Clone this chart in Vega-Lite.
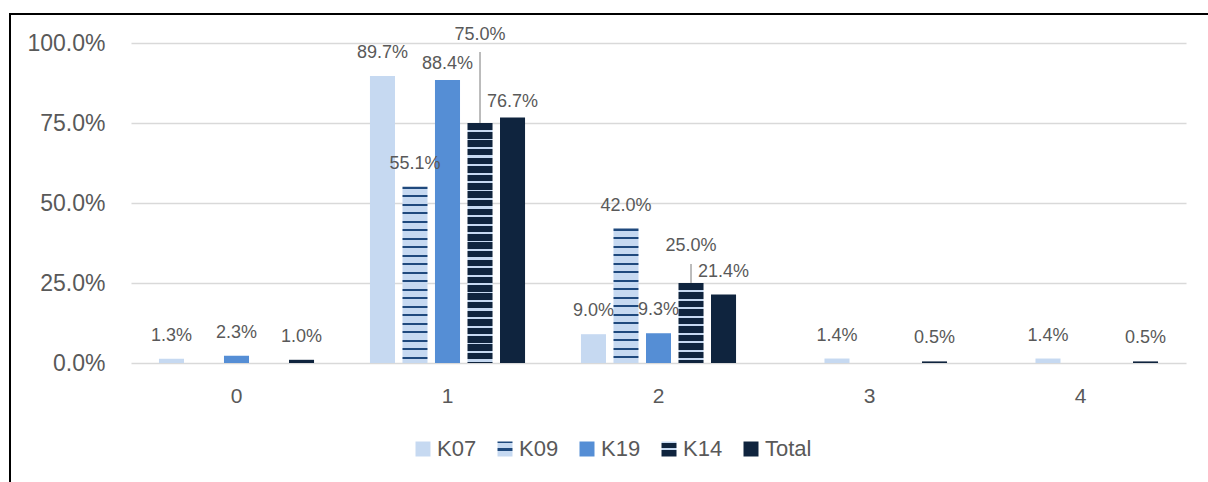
{
"$schema": "https://vega.github.io/schema/vega-lite/v6.json",
"width": 1200,
"height": 470,
"autosize": "none",
"padding": {"left": 10, "top": 14, "right": -2, "bottom": -2},
"background": "white",
"config": {"view": {"stroke": "#000000", "strokeWidth": 2}, "font": "Liberation Sans"},
"data": {"values": [
{"cat":"0","series":"K07","value":0.013},
{"cat":"0","series":"K19","value":0.023},
{"cat":"0","series":"Total","value":0.010},
{"cat":"1","series":"K07","value":0.897},
{"cat":"1","series":"K09","value":0.551},
{"cat":"1","series":"K19","value":0.884},
{"cat":"1","series":"K14","value":0.750},
{"cat":"1","series":"Total","value":0.767},
{"cat":"2","series":"K07","value":0.090},
{"cat":"2","series":"K09","value":0.420},
{"cat":"2","series":"K19","value":0.093},
{"cat":"2","series":"K14","value":0.250},
{"cat":"2","series":"Total","value":0.214},
{"cat":"3","series":"K09","value":0.014},
{"cat":"3","series":"Total","value":0.005},
{"cat":"4","series":"K09","value":0.014},
{"cat":"4","series":"Total","value":0.005}
]},
"encoding": {
"x": {"field": "cat", "type": "nominal", "sort": null,
"scale": {"domain": ["0","1","2","3","4"], "range": [121, 1176], "paddingInner": 0, "paddingOuter": 0},
"axis": {"title": null, "orient": "bottom", "offset": -121, "domain": false, "ticks": false, "grid": false, "labelFontSize": 21, "labelColor": "#595959", "labelPadding": 22, "labelAngle": 0, "labelFont": "Liberation Sans"}},
"xOffset": {"field": "series", "type": "nominal", "scale": {"domain": ["K07","K09","K19","K14","Total"], "paddingInner": 0.23, "paddingOuter": 0.86}},
"y": {"field": "value", "type": "quantitative",
"scale": {"domain": [0, 1], "range": [349, 29], "nice": false},
"axis": {"title": null, "offset": -121, "values": [0, 0.25, 0.5, 0.75, 1], "format": ".1%", "domain": false, "ticks": false, "grid": true, "gridColor": "#d9d9d9", "gridWidth": 1.5, "labelFontSize": 23, "labelColor": "#595959", "labelPadding": 26, "labelFont": "Liberation Sans"}}
},
"layer": [
{"mark": {"type": "bar"},
"encoding": {
"fill": {"field": "series", "type": "nominal",
"scale": {"domain": ["K07","K09","K19","K14","Total"], "range": ["#c6d9f1",
{"expr": "{gradient: 'linear', x1: 0, y1: 0, x2: 0, y2: 1, stops: [{offset: 0, color: '#1f497d'}, {offset: 0.13, color: '#1f497d'}, {offset: 0.13, color: '#c6d9f1'}, {offset: 0.43, color: '#c6d9f1'}, {offset: 0.43, color: '#1f497d'}, {offset: 0.6, color: '#1f497d'}, {offset: 0.6, color: '#c6d9f1'}, {offset: 1, color: '#c6d9f1'}]}"},
"#558ed5",
{"expr": "{gradient: 'linear', x1: 0, y1: 0, x2: 0, y2: 1, stops: [{offset: 0, color: '#c6d9f1'}, {offset: 0.13, color: '#c6d9f1'}, {offset: 0.13, color: '#0f243e'}, {offset: 0.43, color: '#0f243e'}, {offset: 0.43, color: '#c6d9f1'}, {offset: 0.57, color: '#c6d9f1'}, {offset: 0.57, color: '#0f243e'}, {offset: 1, color: '#0f243e'}]}"},
"#0f243e"]},
"condition": [
{"test": "datum.series==='K09' && datum.cat==='1'", "value": {"gradient": "linear", "x1": 0, "y1": 0, "x2": 0, "y2": 1, "stops": [
{"offset":0,"color":"#1f497d"},{"offset":0.0113,"color":"#1f497d"},{"offset":0.0113,"color":"#c6d9f1"},
{"offset":0.0482,"color":"#c6d9f1"},{"offset":0.0482,"color":"#1f497d"},{"offset":0.0595,"color":"#1f497d"},{"offset":0.0595,"color":"#c6d9f1"},
{"offset":0.0964,"color":"#c6d9f1"},{"offset":0.0964,"color":"#1f497d"},{"offset":0.1078,"color":"#1f497d"},{"offset":0.1078,"color":"#c6d9f1"},
{"offset":0.1446,"color":"#c6d9f1"},{"offset":0.1446,"color":"#1f497d"},{"offset":0.156,"color":"#1f497d"},{"offset":0.156,"color":"#c6d9f1"},
{"offset":0.1928,"color":"#c6d9f1"},{"offset":0.1928,"color":"#1f497d"},{"offset":0.2042,"color":"#1f497d"},{"offset":0.2042,"color":"#c6d9f1"},
{"offset":0.241,"color":"#c6d9f1"},{"offset":0.241,"color":"#1f497d"},{"offset":0.2524,"color":"#1f497d"},{"offset":0.2524,"color":"#c6d9f1"},
{"offset":0.2892,"color":"#c6d9f1"},{"offset":0.2892,"color":"#1f497d"},{"offset":0.3006,"color":"#1f497d"},{"offset":0.3006,"color":"#c6d9f1"},
{"offset":0.3375,"color":"#c6d9f1"},{"offset":0.3375,"color":"#1f497d"},{"offset":0.3488,"color":"#1f497d"},{"offset":0.3488,"color":"#c6d9f1"},
{"offset":0.3857,"color":"#c6d9f1"},{"offset":0.3857,"color":"#1f497d"},{"offset":0.397,"color":"#1f497d"},{"offset":0.397,"color":"#c6d9f1"},
{"offset":0.4339,"color":"#c6d9f1"},{"offset":0.4339,"color":"#1f497d"},{"offset":0.4452,"color":"#1f497d"},{"offset":0.4452,"color":"#c6d9f1"},
{"offset":0.4821,"color":"#c6d9f1"},{"offset":0.4821,"color":"#1f497d"},{"offset":0.4934,"color":"#1f497d"},{"offset":0.4934,"color":"#c6d9f1"},
{"offset":0.5303,"color":"#c6d9f1"},{"offset":0.5303,"color":"#1f497d"},{"offset":0.5416,"color":"#1f497d"},{"offset":0.5416,"color":"#c6d9f1"},
{"offset":0.5785,"color":"#c6d9f1"},{"offset":0.5785,"color":"#1f497d"},{"offset":0.5898,"color":"#1f497d"},{"offset":0.5898,"color":"#c6d9f1"},
{"offset":0.6267,"color":"#c6d9f1"},{"offset":0.6267,"color":"#1f497d"},{"offset":0.638,"color":"#1f497d"},{"offset":0.638,"color":"#c6d9f1"},
{"offset":0.6749,"color":"#c6d9f1"},{"offset":0.6749,"color":"#1f497d"},{"offset":0.6863,"color":"#1f497d"},{"offset":0.6863,"color":"#c6d9f1"},
{"offset":0.7231,"color":"#c6d9f1"},{"offset":0.7231,"color":"#1f497d"},{"offset":0.7345,"color":"#1f497d"},{"offset":0.7345,"color":"#c6d9f1"},
{"offset":0.7713,"color":"#c6d9f1"},{"offset":0.7713,"color":"#1f497d"},{"offset":0.7827,"color":"#1f497d"},{"offset":0.7827,"color":"#c6d9f1"},
{"offset":0.8195,"color":"#c6d9f1"},{"offset":0.8195,"color":"#1f497d"},{"offset":0.8309,"color":"#1f497d"},{"offset":0.8309,"color":"#c6d9f1"},
{"offset":0.8677,"color":"#c6d9f1"},{"offset":0.8677,"color":"#1f497d"},{"offset":0.8791,"color":"#1f497d"},{"offset":0.8791,"color":"#c6d9f1"},
{"offset":0.916,"color":"#c6d9f1"},{"offset":0.916,"color":"#1f497d"},{"offset":0.9273,"color":"#1f497d"},{"offset":0.9273,"color":"#c6d9f1"},
{"offset":0.9642,"color":"#c6d9f1"},{"offset":0.9642,"color":"#1f497d"},{"offset":0.9755,"color":"#1f497d"},{"offset":0.9755,"color":"#c6d9f1"},
{"offset":1,"color":"#c6d9f1"}]}},
{"test": "datum.series==='K09' && datum.cat==='2'", "value": {"gradient": "linear", "x1": 0, "y1": 0, "x2": 0, "y2": 1, "stops": [
{"offset":0,"color":"#1f497d"},{"offset":0.0149,"color":"#1f497d"},{"offset":0.0149,"color":"#c6d9f1"},
{"offset":0.0632,"color":"#c6d9f1"},{"offset":0.0632,"color":"#1f497d"},{"offset":0.0781,"color":"#1f497d"},{"offset":0.0781,"color":"#c6d9f1"},
{"offset":0.1265,"color":"#c6d9f1"},{"offset":0.1265,"color":"#1f497d"},{"offset":0.1414,"color":"#1f497d"},{"offset":0.1414,"color":"#c6d9f1"},
{"offset":0.1897,"color":"#c6d9f1"},{"offset":0.1897,"color":"#1f497d"},{"offset":0.2046,"color":"#1f497d"},{"offset":0.2046,"color":"#c6d9f1"},
{"offset":0.253,"color":"#c6d9f1"},{"offset":0.253,"color":"#1f497d"},{"offset":0.2679,"color":"#1f497d"},{"offset":0.2679,"color":"#c6d9f1"},
{"offset":0.3162,"color":"#c6d9f1"},{"offset":0.3162,"color":"#1f497d"},{"offset":0.3311,"color":"#1f497d"},{"offset":0.3311,"color":"#c6d9f1"},
{"offset":0.3795,"color":"#c6d9f1"},{"offset":0.3795,"color":"#1f497d"},{"offset":0.3943,"color":"#1f497d"},{"offset":0.3943,"color":"#c6d9f1"},
{"offset":0.4427,"color":"#c6d9f1"},{"offset":0.4427,"color":"#1f497d"},{"offset":0.4576,"color":"#1f497d"},{"offset":0.4576,"color":"#c6d9f1"},
{"offset":0.506,"color":"#c6d9f1"},{"offset":0.506,"color":"#1f497d"},{"offset":0.5208,"color":"#1f497d"},{"offset":0.5208,"color":"#c6d9f1"},
{"offset":0.5692,"color":"#c6d9f1"},{"offset":0.5692,"color":"#1f497d"},{"offset":0.5841,"color":"#1f497d"},{"offset":0.5841,"color":"#c6d9f1"},
{"offset":0.6324,"color":"#c6d9f1"},{"offset":0.6324,"color":"#1f497d"},{"offset":0.6473,"color":"#1f497d"},{"offset":0.6473,"color":"#c6d9f1"},
{"offset":0.6957,"color":"#c6d9f1"},{"offset":0.6957,"color":"#1f497d"},{"offset":0.7106,"color":"#1f497d"},{"offset":0.7106,"color":"#c6d9f1"},
{"offset":0.7589,"color":"#c6d9f1"},{"offset":0.7589,"color":"#1f497d"},{"offset":0.7738,"color":"#1f497d"},{"offset":0.7738,"color":"#c6d9f1"},
{"offset":0.8222,"color":"#c6d9f1"},{"offset":0.8222,"color":"#1f497d"},{"offset":0.8371,"color":"#1f497d"},{"offset":0.8371,"color":"#c6d9f1"},
{"offset":0.8854,"color":"#c6d9f1"},{"offset":0.8854,"color":"#1f497d"},{"offset":0.9003,"color":"#1f497d"},{"offset":0.9003,"color":"#c6d9f1"},
{"offset":0.9487,"color":"#c6d9f1"},{"offset":0.9487,"color":"#1f497d"},{"offset":0.9635,"color":"#1f497d"},{"offset":0.9635,"color":"#c6d9f1"},
{"offset":1,"color":"#c6d9f1"}]}},
{"test": "datum.series==='K14' && datum.cat==='1'", "value": {"gradient": "linear", "x1": 0, "y1": 0, "x2": 0, "y2": 1, "stops": [
{"offset":0,"color":"#0f243e"},
{"offset":0.0292,"color":"#0f243e"},{"offset":0.0292,"color":"#c6d9f1"},{"offset":0.0375,"color":"#c6d9f1"},{"offset":0.0375,"color":"#0f243e"},
{"offset":0.0646,"color":"#0f243e"},{"offset":0.0646,"color":"#c6d9f1"},{"offset":0.0729,"color":"#c6d9f1"},{"offset":0.0729,"color":"#0f243e"},
{"offset":0.1,"color":"#0f243e"},{"offset":0.1,"color":"#c6d9f1"},{"offset":0.1083,"color":"#c6d9f1"},{"offset":0.1083,"color":"#0f243e"},
{"offset":0.1354,"color":"#0f243e"},{"offset":0.1354,"color":"#c6d9f1"},{"offset":0.1438,"color":"#c6d9f1"},{"offset":0.1438,"color":"#0f243e"},
{"offset":0.1708,"color":"#0f243e"},{"offset":0.1708,"color":"#c6d9f1"},{"offset":0.1792,"color":"#c6d9f1"},{"offset":0.1792,"color":"#0f243e"},
{"offset":0.2063,"color":"#0f243e"},{"offset":0.2063,"color":"#c6d9f1"},{"offset":0.2146,"color":"#c6d9f1"},{"offset":0.2146,"color":"#0f243e"},
{"offset":0.2417,"color":"#0f243e"},{"offset":0.2417,"color":"#c6d9f1"},{"offset":0.25,"color":"#c6d9f1"},{"offset":0.25,"color":"#0f243e"},
{"offset":0.2771,"color":"#0f243e"},{"offset":0.2771,"color":"#c6d9f1"},{"offset":0.2854,"color":"#c6d9f1"},{"offset":0.2854,"color":"#0f243e"},
{"offset":0.3125,"color":"#0f243e"},{"offset":0.3125,"color":"#c6d9f1"},{"offset":0.3208,"color":"#c6d9f1"},{"offset":0.3208,"color":"#0f243e"},
{"offset":0.3479,"color":"#0f243e"},{"offset":0.3479,"color":"#c6d9f1"},{"offset":0.3563,"color":"#c6d9f1"},{"offset":0.3563,"color":"#0f243e"},
{"offset":0.3833,"color":"#0f243e"},{"offset":0.3833,"color":"#c6d9f1"},{"offset":0.3917,"color":"#c6d9f1"},{"offset":0.3917,"color":"#0f243e"},
{"offset":0.4188,"color":"#0f243e"},{"offset":0.4188,"color":"#c6d9f1"},{"offset":0.4271,"color":"#c6d9f1"},{"offset":0.4271,"color":"#0f243e"},
{"offset":0.4542,"color":"#0f243e"},{"offset":0.4542,"color":"#c6d9f1"},{"offset":0.4625,"color":"#c6d9f1"},{"offset":0.4625,"color":"#0f243e"},
{"offset":0.4896,"color":"#0f243e"},{"offset":0.4896,"color":"#c6d9f1"},{"offset":0.4979,"color":"#c6d9f1"},{"offset":0.4979,"color":"#0f243e"},
{"offset":0.525,"color":"#0f243e"},{"offset":0.525,"color":"#c6d9f1"},{"offset":0.5333,"color":"#c6d9f1"},{"offset":0.5333,"color":"#0f243e"},
{"offset":0.5604,"color":"#0f243e"},{"offset":0.5604,"color":"#c6d9f1"},{"offset":0.5688,"color":"#c6d9f1"},{"offset":0.5688,"color":"#0f243e"},
{"offset":0.5958,"color":"#0f243e"},{"offset":0.5958,"color":"#c6d9f1"},{"offset":0.6042,"color":"#c6d9f1"},{"offset":0.6042,"color":"#0f243e"},
{"offset":0.6313,"color":"#0f243e"},{"offset":0.6313,"color":"#c6d9f1"},{"offset":0.6396,"color":"#c6d9f1"},{"offset":0.6396,"color":"#0f243e"},
{"offset":0.6667,"color":"#0f243e"},{"offset":0.6667,"color":"#c6d9f1"},{"offset":0.675,"color":"#c6d9f1"},{"offset":0.675,"color":"#0f243e"},
{"offset":0.7021,"color":"#0f243e"},{"offset":0.7021,"color":"#c6d9f1"},{"offset":0.7104,"color":"#c6d9f1"},{"offset":0.7104,"color":"#0f243e"},
{"offset":0.7375,"color":"#0f243e"},{"offset":0.7375,"color":"#c6d9f1"},{"offset":0.7458,"color":"#c6d9f1"},{"offset":0.7458,"color":"#0f243e"},
{"offset":0.7729,"color":"#0f243e"},{"offset":0.7729,"color":"#c6d9f1"},{"offset":0.7813,"color":"#c6d9f1"},{"offset":0.7813,"color":"#0f243e"},
{"offset":0.8083,"color":"#0f243e"},{"offset":0.8083,"color":"#c6d9f1"},{"offset":0.8167,"color":"#c6d9f1"},{"offset":0.8167,"color":"#0f243e"},
{"offset":0.8438,"color":"#0f243e"},{"offset":0.8438,"color":"#c6d9f1"},{"offset":0.8521,"color":"#c6d9f1"},{"offset":0.8521,"color":"#0f243e"},
{"offset":0.8792,"color":"#0f243e"},{"offset":0.8792,"color":"#c6d9f1"},{"offset":0.8875,"color":"#c6d9f1"},{"offset":0.8875,"color":"#0f243e"},
{"offset":0.9146,"color":"#0f243e"},{"offset":0.9146,"color":"#c6d9f1"},{"offset":0.9229,"color":"#c6d9f1"},{"offset":0.9229,"color":"#0f243e"},
{"offset":0.95,"color":"#0f243e"},{"offset":0.95,"color":"#c6d9f1"},{"offset":0.9583,"color":"#c6d9f1"},{"offset":0.9583,"color":"#0f243e"},
{"offset":0.9854,"color":"#0f243e"},{"offset":0.9854,"color":"#c6d9f1"},{"offset":0.9938,"color":"#c6d9f1"},{"offset":0.9938,"color":"#0f243e"},
{"offset":1,"color":"#0f243e"}]}},
{"test": "datum.series==='K14' && datum.cat==='2'", "value": {"gradient": "linear", "x1": 0, "y1": 0, "x2": 0, "y2": 1, "stops": [
{"offset":0,"color":"#0f243e"},
{"offset":0.0875,"color":"#0f243e"},{"offset":0.0875,"color":"#c6d9f1"},{"offset":0.1125,"color":"#c6d9f1"},{"offset":0.1125,"color":"#0f243e"},
{"offset":0.1938,"color":"#0f243e"},{"offset":0.1938,"color":"#c6d9f1"},{"offset":0.2188,"color":"#c6d9f1"},{"offset":0.2188,"color":"#0f243e"},
{"offset":0.3,"color":"#0f243e"},{"offset":0.3,"color":"#c6d9f1"},{"offset":0.325,"color":"#c6d9f1"},{"offset":0.325,"color":"#0f243e"},
{"offset":0.4063,"color":"#0f243e"},{"offset":0.4063,"color":"#c6d9f1"},{"offset":0.4313,"color":"#c6d9f1"},{"offset":0.4313,"color":"#0f243e"},
{"offset":0.5125,"color":"#0f243e"},{"offset":0.5125,"color":"#c6d9f1"},{"offset":0.5375,"color":"#c6d9f1"},{"offset":0.5375,"color":"#0f243e"},
{"offset":0.6188,"color":"#0f243e"},{"offset":0.6188,"color":"#c6d9f1"},{"offset":0.6438,"color":"#c6d9f1"},{"offset":0.6438,"color":"#0f243e"},
{"offset":0.725,"color":"#0f243e"},{"offset":0.725,"color":"#c6d9f1"},{"offset":0.75,"color":"#c6d9f1"},{"offset":0.75,"color":"#0f243e"},
{"offset":0.8313,"color":"#0f243e"},{"offset":0.8313,"color":"#c6d9f1"},{"offset":0.8563,"color":"#c6d9f1"},{"offset":0.8563,"color":"#0f243e"},
{"offset":0.9375,"color":"#0f243e"},{"offset":0.9375,"color":"#c6d9f1"},{"offset":0.9625,"color":"#c6d9f1"},{"offset":0.9625,"color":"#0f243e"},
{"offset":1,"color":"#0f243e"}]}},
{"test": "datum.series==='K09'", "value": "#c6d9f1"},
{"test": "datum.series==='K14'", "value": "#0f243e"}
],
"legend": {"orient": "none", "legendX": 402, "legendY": 424, "direction": "horizontal", "title": null,
"symbolType": "square", "symbolSize": 225, "symbolStrokeWidth": 0,
"labelFontSize": 22, "labelFont": "Liberation Sans", "labelColor": "#595959", "labelOffset": 3, "columnPadding": 17}
}
}
},
{"mark": {"type": "text", "dy": -23, "fontSize": 18, "fill": "#595959", "baseline": "middle", "font": "Liberation Sans"},
"transform": [{"filter": "!(datum.cat==='1' && (datum.series==='K19' || datum.series==='Total')) && datum.series!=='K14'"}],
"encoding": {"text": {"field": "value", "type": "quantitative", "format": ".1%"}}},
{"mark": {"type": "text", "dy": -16, "fontSize": 18, "fill": "#595959", "baseline": "middle", "font": "Liberation Sans"},
"transform": [{"filter": "datum.cat==='1' && (datum.series==='K19' || datum.series==='Total')"}],
"encoding": {"text": {"field": "value", "type": "quantitative", "format": ".1%"}}},
{"mark": {"type": "text", "dy": -88, "fontSize": 18, "fill": "#595959", "baseline": "middle", "font": "Liberation Sans"},
"transform": [{"filter": "datum.cat==='1' && datum.series==='K14'"}],
"encoding": {"text": {"field": "value", "type": "quantitative", "format": ".1%"}}},
{"mark": {"type": "text", "dy": -37, "fontSize": 18, "fill": "#595959", "baseline": "middle", "font": "Liberation Sans"},
"transform": [{"filter": "datum.cat==='2' && datum.series==='K14'"}],
"encoding": {"text": {"field": "value", "type": "quantitative", "format": ".1%"}}},
{"mark": {"type": "rule", "color": "#a6a6a6", "strokeWidth": 1.5},
"transform": [{"filter": "datum.cat==='1' && datum.series==='K14'"}],
"encoding": {"y2": {"datum": 0.972}}},
{"mark": {"type": "rule", "color": "#a6a6a6", "strokeWidth": 1.5},
"transform": [{"filter": "datum.cat==='2' && datum.series==='K14'"}],
"encoding": {"y2": {"datum": 0.309}}}
]
}
